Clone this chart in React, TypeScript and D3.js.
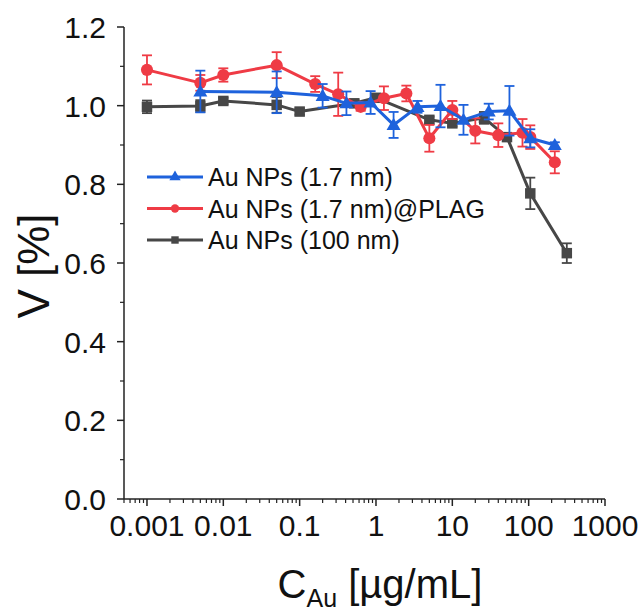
import { useEffect, useRef } from "react";
import * as d3 from "d3";

// concentrations (µg/mL) and viability values
const blueX = [0.005, 0.05, 0.2, 0.41, 0.85, 1.7, 3.5, 7, 14, 30, 56, 105, 220];
const blueY = [1.036, 1.034, 1.025, 1.006, 1.008, 0.951, 0.997, 0.999, 0.964, 0.985, 0.987, 0.917, 0.9];
const blueErr = [0.053, 0.053, 0.03, 0.03, 0.029, 0.033, 0.015, 0.054, 0.038, 0.02, 0.063, 0.023, 0.007];

const redX = [0.001, 0.005, 0.01, 0.05, 0.16, 0.32, 0.63, 1.27, 2.5, 5, 10, 20, 40, 83, 105, 220];
const redY = [1.091, 1.058, 1.078, 1.103, 1.055, 1.029, 0.997, 1.019, 1.031, 0.917, 0.989, 0.936, 0.925, 0.931, 0.92, 0.856];
const redErr = [0.037, 0.02, 0.017, 0.033, 0.02, 0.055, 0.01, 0.03, 0.02, 0.034, 0.023, 0.032, 0.03, 0.035, 0.03, 0.028];

const grayX = [0.001, 0.005, 0.01, 0.05, 0.1, 0.52, 1, 5, 10, 26, 52, 105, 316];
const grayY = [0.997, 0.999, 1.012, 1.002, 0.985, 1.006, 1.02, 0.964, 0.955, 0.969, 0.92, 0.777, 0.625];
const grayErr = [0.016, 0.015, 0.008, 0.02, 0.008, 0.008, 0.008, 0.008, 0.008, 0.015, 0.008, 0.04, 0.025];

const seriesNames = ["Au NPs (1.7 nm)", "Au NPs (1.7 nm)@PLAG", "Au NPs (100 nm)"];
const seriesColors = ["#1E62DC", "#EF3B45", "#474747"];
const seriesShapes = ["triangle", "circle", "square"];

const xTicks = [0.001, 0.01, 0.1, 1, 10, 100, 1000];
const xTickLabels = ["0.001", "0.01", "0.1", "1", "10", "100", "1000"];
const yTicks = [0, 0.2, 0.4, 0.6, 0.8, 1.0, 1.2];

const FONT = "'Liberation Sans', Arial, sans-serif";

function symbolFor(shape: string, size: number) {
  const type =
    shape === "triangle" ? d3.symbolTriangle : shape === "circle" ? d3.symbolCircle : d3.symbolSquare;
  return d3.symbol().type(type).size(size)();
}

const App = () => {
  const ref = useRef<SVGSVGElement | null>(null);

  const W = 644;
  const H = 614;
  const x = d3.scaleLog().domain([0.0005, 1000]).range([124, 605]);
  const y = d3.scaleLinear().domain([0, 1.2]).range([499, 27]);

  useEffect(() => {
    const svg = d3.select(ref.current);
    svg.selectAll("*").remove();
    const axisColor = "#222";

    // x axis
    const gx = svg.append("g");
    gx.append("line")
      .attr("x1", x.range()[0]).attr("x2", x.range()[1])
      .attr("y1", y(0)).attr("y2", y(0))
      .attr("stroke", axisColor).attr("stroke-width", 1.5);
    const minorX: number[] = [];
    for (let e = -4; e < 3; e++) {
      for (let k = 2; k <= 9; k++) {
        const v = k * Math.pow(10, e);
        if (v >= 0.0005 && v <= 1000) minorX.push(v);
      }
    }
    gx.selectAll(".minor").data(minorX).enter().append("line")
      .attr("x1", (d) => x(d)).attr("x2", (d) => x(d))
      .attr("y1", y(0)).attr("y2", y(0) + 4)
      .attr("stroke", axisColor).attr("stroke-width", 1.2);
    gx.selectAll(".major").data(xTicks).enter().append("line")
      .attr("x1", (d) => x(d)).attr("x2", (d) => x(d))
      .attr("y1", y(0)).attr("y2", y(0) + 7)
      .attr("stroke", axisColor).attr("stroke-width", 1.5);
    gx.selectAll(".lbl").data(xTicks).enter().append("text")
      .attr("x", (d) => x(d)).attr("y", 536)
      .attr("text-anchor", "middle")
      .attr("font-family", FONT).attr("font-size", 30).attr("fill", "#111")
      .text((d, i) => xTickLabels[i]);

    // y axis
    const gy = svg.append("g");
    gy.append("line")
      .attr("x1", x.range()[0]).attr("x2", x.range()[0])
      .attr("y1", y(0)).attr("y2", y(1.2))
      .attr("stroke", axisColor).attr("stroke-width", 1.5);
    const minorY = d3.range(1, 12, 2).map((d) => d / 10);
    gy.selectAll(".minor").data(minorY).enter().append("line")
      .attr("x1", x.range()[0] - 4).attr("x2", x.range()[0])
      .attr("y1", (d) => y(d)).attr("y2", (d) => y(d))
      .attr("stroke", axisColor).attr("stroke-width", 1.2);
    gy.selectAll(".major").data(yTicks).enter().append("line")
      .attr("x1", x.range()[0] - 7).attr("x2", x.range()[0])
      .attr("y1", (d) => y(d)).attr("y2", (d) => y(d))
      .attr("stroke", axisColor).attr("stroke-width", 1.5);
    gy.selectAll(".lbl").data(yTicks).enter().append("text")
      .attr("x", 106).attr("y", (d) => y(d) + 11)
      .attr("text-anchor", "end")
      .attr("font-family", FONT).attr("font-size", 30).attr("fill", "#111")
      .text((d) => d3.format(".1f")(d));

    // axis titles
    svg.append("text")
      .attr("transform", "translate(49,266) rotate(-90)")
      .attr("text-anchor", "middle")
      .attr("font-family", FONT).attr("font-size", 44).attr("fill", "#111")
      .text("V [%]");
    const xt = svg.append("text")
      .attr("x", 380).attr("y", 598)
      .attr("text-anchor", "middle")
      .attr("font-family", FONT).attr("font-size", 40).attr("fill", "#111");
    xt.append("tspan").text("C");
    xt.append("tspan").attr("font-size", 25).attr("dy", 9).text("Au");
    xt.append("tspan").attr("dy", -9).text(" [µg/mL]");

    // series
    const series = [
      { xs: grayX, ys: grayY, es: grayErr, idx: 2 },
      { xs: redX, ys: redY, es: redErr, idx: 1 },
      { xs: blueX, ys: blueY, es: blueErr, idx: 0 },
    ];
    const line = d3.line<[number, number]>().x((d) => x(d[0])).y((d) => y(d[1]));

    series.forEach((s) => {
      const color = seriesColors[s.idx];
      const pts = s.xs.map((v, i) => [v, s.ys[i]] as [number, number]);
      const g = svg.append("g");
      g.append("path")
        .attr("d", line(pts))
        .attr("fill", "none").attr("stroke", color)
        .attr("stroke-width", 3).attr("stroke-linejoin", "round");

      // error bars
      const eb = g.selectAll(".err").data(pts).enter().append("g");
      eb.append("line")
        .attr("x1", (d) => x(d[0])).attr("x2", (d) => x(d[0]))
        .attr("y1", (d, i) => y(d[1] - s.es[i])).attr("y2", (d, i) => y(d[1] + s.es[i]))
        .attr("stroke", color).attr("stroke-width", 1.8);
      [-1, 1].forEach((sign) => {
        eb.append("line")
          .attr("x1", (d) => x(d[0]) - 5).attr("x2", (d) => x(d[0]) + 5)
          .attr("y1", (d, i) => y(d[1] + sign * s.es[i]))
          .attr("y2", (d, i) => y(d[1] + sign * s.es[i]))
          .attr("stroke", color).attr("stroke-width", 1.8);
      });

      // markers
      const shape = seriesShapes[s.idx];
      const size = shape === "circle" ? 115 : shape === "square" ? 110 : 85;
      g.selectAll(".mk").data(pts).enter().append("path")
        .attr("d", symbolFor(shape, size))
        .attr("transform", (d) => `translate(${x(d[0])},${y(d[1]) + (shape === "triangle" ? 1 : 0)})`)
        .attr("fill", color);
    });

    // legend
    const legend = svg.selectAll(".legend").data(seriesNames).enter().append("g")
      .attr("transform", (d, i) => `translate(147, ${177 + i * 31.5})`);
    legend.append("line")
      .attr("x1", 0).attr("x2", 56).attr("y1", 0).attr("y2", 0)
      .attr("stroke", (d, i) => seriesColors[i]).attr("stroke-width", 3);
    legend.append("path")
      .attr("d", (d, i) => symbolFor(seriesShapes[i], 55))
      .attr("transform", "translate(28,0)")
      .attr("fill", (d, i) => seriesColors[i]);
    legend.append("text")
      .attr("x", 61).attr("y", 9)
      .attr("font-family", FONT).attr("font-size", 25).attr("fill", "#111")
      .text((d) => d);
  }, []);

  return (
    <svg
      ref={ref}
      width={W}
      height={H}
      style={{ position: "absolute", left: 0, top: 0, background: "#fff" }}
    />
  );
};

export default App;
